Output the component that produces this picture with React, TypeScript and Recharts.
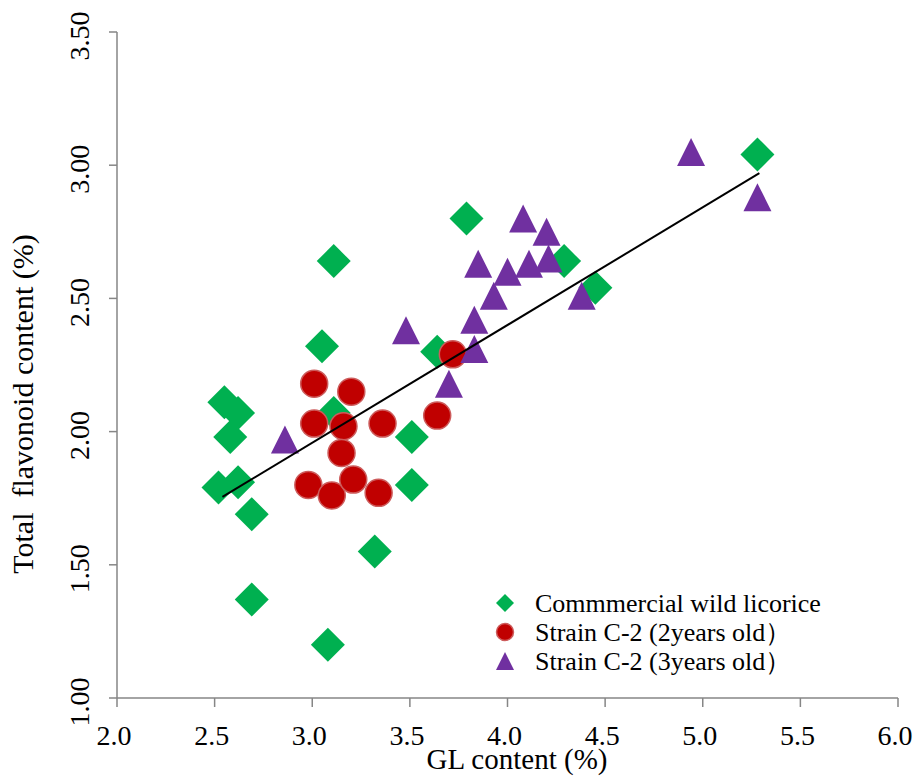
import React from 'react';
import { ScatterChart, Scatter, XAxis, YAxis, Label } from 'recharts';

const FONT = '"Liberation Serif", "Times New Roman", serif';
const AXIS_COLOR = '#868686';
const GREEN = '#00B050';
const RED = '#C00000';
const PURPLE = '#7030A0';

// Commercial wild licorice
const wildGL = [5.28, 3.79, 3.11, 4.29, 4.45, 3.05, 3.64, 2.55, 2.62, 3.11, 2.58, 3.51, 2.52, 2.62, 3.51, 2.69, 3.32, 2.69, 3.08];
const wildTF = [3.04, 2.8, 2.64, 2.64, 2.54, 2.32, 2.3, 2.11, 2.07, 2.07, 1.98, 1.98, 1.79, 1.81, 1.8, 1.69, 1.55, 1.37, 1.2];

// Strain C-2, 2 years old
const c2y2GL = [3.01, 3.2, 3.64, 3.01, 3.16, 3.36, 3.15, 2.98, 3.1, 3.21, 3.34, 3.72];
const c2y2TF = [2.18, 2.15, 2.06, 2.03, 2.02, 2.03, 1.92, 1.8, 1.76, 1.82, 1.77, 2.29];

// Strain C-2, 3 years old
const c2y3GL = [4.94, 5.28, 4.08, 4.2, 4.21, 4.11, 3.85, 4.0, 3.93, 4.38, 3.83, 3.48, 3.83, 3.7, 2.86];
const c2y3TF = [3.05, 2.88, 2.8, 2.75, 2.65, 2.63, 2.63, 2.6, 2.51, 2.51, 2.42, 2.38, 2.31, 2.18, 1.97];

// linear trend line end points
const trendGL = [2.54, 5.29];
const trendTF = [1.755, 2.97];

const xTicks = [2, 2.5, 3, 3.5, 4, 4.5, 5, 5.5, 6];
const yTicks = [1, 1.5, 2, 2.5, 3, 3.5];
const seriesNames = ['Commmercial wild licorice', 'Strain C-2 (2years old）', 'Strain C-2 (3years old）'];

const toPoints = (xs: number[], ys: number[]) => xs.map((x, i) => ({ x, y: ys[i] }));

const textStyle = { fontFamily: FONT };

const Diamond = ({ cx, cy, r = 17 }: { cx: number; cy: number; r?: number }) => (
  <polygon points={`${cx},${cy - r} ${cx + r},${cy} ${cx},${cy + r} ${cx - r},${cy}`} fill={GREEN} />
);

const Dot = ({ cx, cy, r = 13.5 }: { cx: number; cy: number; r?: number }) => (
  <circle cx={cx} cy={cy} r={r} fill={RED} stroke="#CD5C5C" strokeWidth={1.5} />
);

const Triangle = ({ cx, cy, r = 14 }: { cx: number; cy: number; r?: number }) => (
  <polygon points={`${cx},${cy - r} ${cx + r},${cy + r} ${cx - r},${cy + r}`} fill={PURPLE} />
);

const XTick = (props: any) => {
  const { x, y, payload } = props;
  return (
    <text x={x - 3} y={y + 36} textAnchor="middle" style={textStyle} fontSize={28} fill="#000">
      {payload.value.toFixed(1)}
    </text>
  );
};

const YTick = (props: any) => {
  const { x, y, payload } = props;
  const tx = x - 18;
  const ty = y + 4;
  return (
    <text x={tx} y={ty} transform={`rotate(-90, ${tx}, ${ty})`} textAnchor="middle" style={textStyle} fontSize={28} fill="#000">
      {payload.value.toFixed(2)}
    </text>
  );
};

const legendMarkers = [
  (cx: number, cy: number) => <Diamond cx={cx} cy={cy} r={9} />,
  (cx: number, cy: number) => <Dot cx={cx} cy={cy} r={8.5} />,
  (cx: number, cy: number) => <Triangle cx={cx} cy={cy} r={9} />,
];

export default function App() {
  return (
    <div style={{ position: 'absolute', left: 0, top: 0, width: 916, height: 776, background: '#fff' }}>
      <ScatterChart width={916} height={776} margin={{ top: 32, right: 18, bottom: 28, left: 57 }}>
        <XAxis
          type="number"
          dataKey="x"
          domain={[2, 6]}
          ticks={xTicks}
          tick={<XTick />}
          height={50}
          tickSize={9}
          axisLine={{ stroke: AXIS_COLOR, strokeWidth: 1.5 }}
          tickLine={{ stroke: AXIS_COLOR, strokeWidth: 1.5 }}
          allowDataOverflow
        >
          <Label
            content={() => (
              <text x={517} y={769} textAnchor="middle" style={textStyle} fontSize={29} fill="#000">
                GL content (%)
              </text>
            )}
          />
        </XAxis>
        <YAxis
          type="number"
          dataKey="y"
          domain={[1, 3.5]}
          ticks={yTicks}
          tick={<YTick />}
          width={60}
          tickSize={8}
          axisLine={{ stroke: AXIS_COLOR, strokeWidth: 1.5 }}
          tickLine={{ stroke: AXIS_COLOR, strokeWidth: 1.5 }}
          allowDataOverflow
        >
          <Label
            content={() => (
              <text
                x={33}
                y={404}
                transform="rotate(-90, 33, 404)"
                textAnchor="middle"
                fontSize={30}
                fill="#000"
                style={{ ...textStyle, whiteSpace: 'pre' }}
              >
                {'Total  flavonoid content (%)'}
              </text>
            )}
          />
        </YAxis>
        <Scatter
          name={seriesNames[0]}
          data={toPoints(wildGL, wildTF)}
          isAnimationActive={false}
          shape={(p: any) => <Diamond cx={p.cx} cy={p.cy} />}
        />
        <Scatter
          name={seriesNames[1]}
          data={toPoints(c2y2GL, c2y2TF)}
          isAnimationActive={false}
          shape={(p: any) => <Dot cx={p.cx} cy={p.cy} />}
        />
        <Scatter
          name={seriesNames[2]}
          data={toPoints(c2y3GL, c2y3TF)}
          isAnimationActive={false}
          shape={(p: any) => <Triangle cx={p.cx} cy={p.cy} />}
        />
        <Scatter
          name="trend"
          data={toPoints(trendGL, trendTF)}
          isAnimationActive={false}
          line={{ stroke: '#000', strokeWidth: 2 }}
          shape={() => <g />}
        />
      </ScatterChart>
      <svg style={{ position: 'absolute', left: 490, top: 585 }} width={400} height={95}>
        {seriesNames.map((name, i) => (
          <g key={name}>
            {legendMarkers[i](15, 18 + i * 29)}
            <text x={45} y={27 + i * 29} style={textStyle} fontSize={26} fill="#000">
              {name}
            </text>
          </g>
        ))}
      </svg>
    </div>
  );
}
